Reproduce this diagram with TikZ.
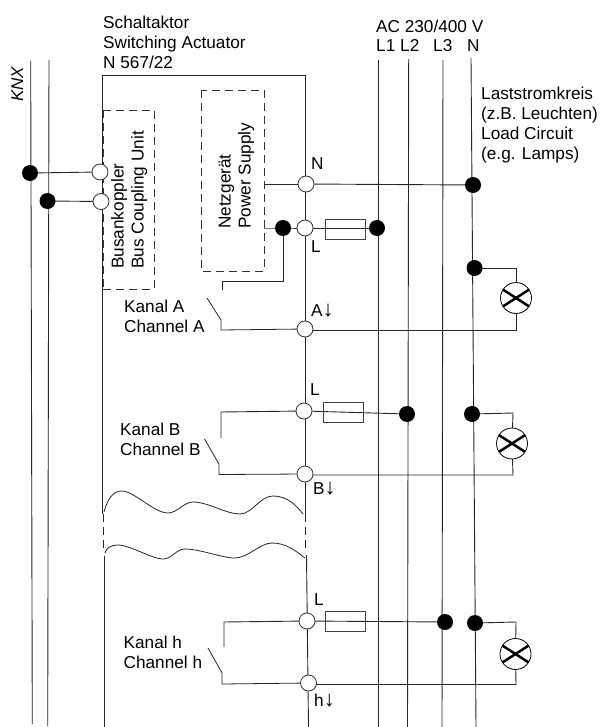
\documentclass[tikz,border=0pt]{standalone}
\usepackage{fontspec}
\setmainfont{Liberation Sans}
\usetikzlibrary{backgrounds}
\newcommand{\bigdown}{{\fontsize{22}{22}\selectfont ↓}}
\tikzset{
  x=1pt,y=-1pt,
  wire/.style={line width=0.9pt,draw=black!85},
  thin wire/.style={line width=0.8pt,draw=black!85},
  dashbox/.style={line width=0.9pt,draw=black!80,dash pattern=on 8pt off 5pt},
  blob/.style={circle,fill=black,draw=none,minimum size=16pt,inner sep=0},
  term/.style={circle,fill=white,draw=black!80,line width=0.8pt,minimum size=16pt,inner sep=0},
  fuse/.style={rectangle,draw=black!75,line width=0.9pt,minimum width=40pt,minimum height=20pt,inner sep=0},
  lamp/.style={circle,draw=black,fill=white,line width=0.8pt,minimum size=31pt,inner sep=0,
    path picture={\draw[line width=2.5pt] (-14,-9)--(14,9) (-14,9)--(14,-9);}},
  txt/.style={font=\fontsize{17.2}{20}\selectfont,align=left,inner sep=0,anchor=north west},
  lbl/.style={font=\fontsize{17.2}{20}\selectfont,inner sep=0,anchor=base west},
}
\begin{document}
\begin{tikzpicture}
\useasboundingbox (0,0) rectangle (599,727);
% texts
\node[txt] (title) at (103,14) {\strut Schaltaktor\\Switching Actuator\\N 567/22};
\node[txt] (mains) at (376,18) {\strut AC 230/400 V};
\node[lbl] (tL1) at (376,52) {L1};
\node[lbl] (tL2) at (400,52) {L2};
\node[lbl] (tL3) at (433,52) {L3};
\node[lbl] (tN) at (467,52) {N};
\node[txt] (load) at (481,85) {\strut Laststromkreis\\(z.B. Leuchten)\\Load Circuit\\(e.g. Lamps)};
\node[lbl,rotate=90,font=\fontsize{17}{20}\selectfont\itshape] (knx) at (23,102) {KNX};
\node[txt,rotate=90] (bus) at (109.5,269) {\strut Busankoppler\\Bus Coupling Unit};
\node[txt,rotate=90] (psu) at (216.5,229) {\strut Netzgerät\\Power Supply};
\node[txt] (kA) at (124,298) {\strut Kanal A\\Channel A};
\node[txt] (kB) at (120,421) {\strut Kanal B\\Channel B};
\node[txt] (kh) at (123.5,634) {\strut Kanal h\\Channel h};
\node[lbl] at (311,170) {N};
\node[lbl] at (311,252) {L};
\node[lbl] at (311,316) {A\bigdown};
\node[lbl] at (310,395) {L};
\node[lbl] at (313,494) {B\bigdown};
\node[lbl] at (314,605) {L};
\node[lbl] at (314,706) {h\bigdown};
% terminals and junctions
\node[term] (b1) at (100,172) {};
\node[term] (b2) at (101,201.5) {};
\node[blob] (k1) at (30,173) {};
\node[blob] (k2) at (47.5,201) {};
\node[term] (tNN) at (306,184) {};
\node[term] (tLA) at (305,228) {};
\node[term] (tA) at (305,329) {};
\node[term] (tLB) at (304,411) {};
\node[term] (tB) at (305,474) {};
\node[term] (tLh) at (307,621) {};
\node[term] (th) at (308.5,683) {};
\node[blob] (jP) at (283,228) {};
\node[blob] (jN) at (473,185) {};
\node[blob] (jL1) at (377,228) {};
\node[blob] (jNA) at (474.5,268) {};
\node[blob] (jL2) at (407,414) {};
\node[blob] (jNB) at (472,414) {};
\node[blob] (jL3) at (445,622) {};
\node[blob] (jNh) at (475,623) {};
\node[fuse] (fA) at (345,229) {};
\node[fuse] (fB) at (343.5,412) {};
\node[fuse] (fh) at (345.5,621) {};
\node[lamp] (lA) at (516,298) {};
\node[lamp] (lB) at (512,443.5) {};
\node[lamp] (lh) at (515.5,654) {};
% free ends
\coordinate (ka1) at (30.7,61); \coordinate (ka2) at (32.3,724);
\coordinate (kb1) at (49,60); \coordinate (kb2) at (47.7,726);
\coordinate (r1a) at (378,60); \coordinate (r1b) at (378,727);
\coordinate (r2a) at (408.7,59); \coordinate (r2b) at (407.5,727);
\coordinate (r3a) at (443,60); \coordinate (r3b) at (442,727);
\coordinate (rNa) at (471,58); \coordinate (rNb) at (476,727);
\begin{scope}[on background layer]
\draw[wire] (ka1)--(ka2);
\draw[wire] (kb1)--(kb2);
\draw[wire] (r1a)--(r1b);
\draw[wire] (r2a)--(r2b);
\draw[wire] (r3a)--(r3b);
\draw[wire] (rNa)--(rNb);
% actuator frame
\draw[wire] (102.5,514)--(102.5,75)--(305,75)--(305,514);
\draw[wire,dash pattern=on 8pt off 5pt] (103,514)--(103,553);
\draw[wire,dash pattern=on 8pt off 5pt] (305.5,514)--(305.5,553);
\draw[wire] (104.5,556)--(104.5,727);
\draw[wire] (306.5,555)--(308.5,727);
\draw[thin wire] (104,512) .. controls (108,497) and (114,491) .. (122,491)
  .. controls (134,491) and (154,513) .. (168,513)
  .. controls (177,513) and (184,502) .. (193,502)
  .. controls (208,502) and (226,514) .. (240,514)
  .. controls (252,514) and (260,496) .. (273,496)
  .. controls (287,496) and (296,505) .. (303,514);
\draw[thin wire] (105,553) .. controls (106,548) and (111,545) .. (118,545)
  .. controls (130,545) and (152,559) .. (163,559)
  .. controls (172,559) and (176,549) .. (185,549)
  .. controls (200,549) and (222,558) .. (235,558)
  .. controls (248,558) and (260,543) .. (272,543)
  .. controls (286,543) and (296,551) .. (305,558);
% dashed units
\draw[dashbox] (103,110)--(154,110)--(154,289)--(103,289);
\draw[dashbox] (103,110)--(103,289);
\draw[dashbox] (201.5,90.5) rectangle (264,271);
% bus
\draw[wire] (k1.center)--(b1.center);
\draw[wire] (k2.center)--(b2.center);
% power
\draw[wire] (264,184)--(tNN.center);
\draw[wire] (264,228)--(jP.center)--(tLA.center);
\draw[wire] (jP.center)--(283,281)--(222,281)--(222,290);
\draw[wire] (tNN.center)--(jN.center);
\draw[wire] (tLA.center)--(jL1.center);
% channel A
\draw[thin wire] (207,298)--(221,320)--(221,330)--(tA.center);
\draw[wire] (tA.center)--(305,330)--(516,330)--(lA.center);
\draw[wire] (lA.center)--(516,268)--(jNA.center);
% channel B
\draw[wire] (tLB.center)--(221,412)--(221,438);
\draw[wire] (tLB.center)--(jL2.center);
\draw[thin wire] (204.5,439)--(219,464)--(219,474.5)--(tB.center);
\draw[wire] (tB.center)--(305,475)--(513,475)--(lB.center);
\draw[wire] (lB.center)--(513,413)--(jNB.center);
% channel h
\draw[wire] (tLh.center)--(224,622)--(224,647);
\draw[wire] (tLh.center)--(jL3.center);
\draw[thin wire] (208,648)--(222,673)--(222,684)--(th.center);
\draw[wire] (th.center)--(308,684.5)--(516,684.5)--(lh.center);
\draw[wire] (lh.center)--(516,622)--(jNh.center);
\end{scope}
\end{tikzpicture}
\end{document}
